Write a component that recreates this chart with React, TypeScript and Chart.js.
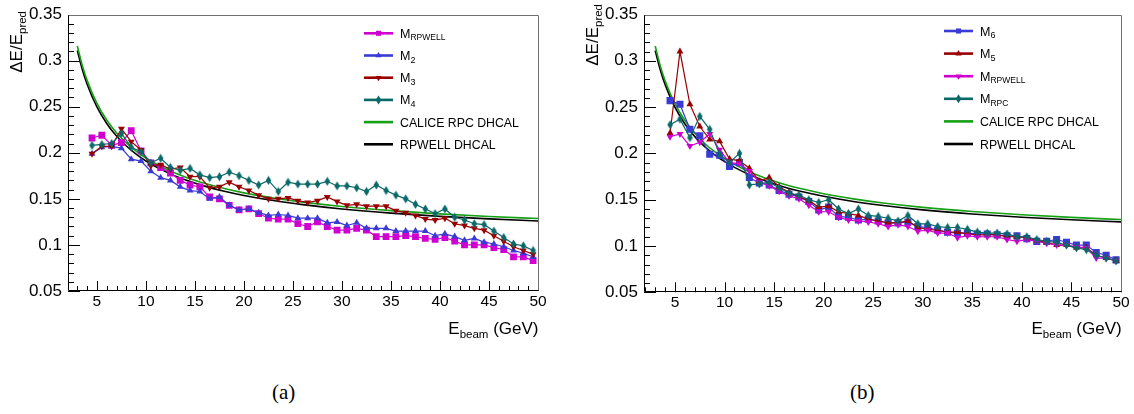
import React, { useEffect, useRef } from "react";
import { Chart, registerables } from "chart.js";

Chart.register(...registerables);

// ---------------- data ----------------
const energies = [
  4.5, 5.5, 6.5, 7.5, 8.5, 9.5, 10.5, 11.5, 12.5, 13.5, 14.5, 15.5, 16.5, 17.5, 18.5, 19.5,
  20.5, 21.5, 22.5, 23.5, 24.5, 25.5, 26.5, 27.5, 28.5, 29.5, 30.5, 31.5, 32.5, 33.5, 34.5,
  35.5, 36.5, 37.5, 38.5, 39.5, 40.5, 41.5, 42.5, 43.5, 44.5, 45.5, 46.5, 47.5, 48.5, 49.5,
];

// panel (a)
const aRpwell = [
  0.216, 0.219, 0.208, 0.211, 0.224, 0.202, 0.189, 0.184, 0.178, 0.170, 0.165, 0.163, 0.152, 0.150, 0.143, 0.138,
  0.139, 0.134, 0.129, 0.128, 0.128, 0.123, 0.120, 0.125, 0.120, 0.116, 0.116, 0.118, 0.116, 0.109, 0.109,
  0.109, 0.110, 0.109, 0.107, 0.106, 0.108, 0.104, 0.100, 0.100, 0.100, 0.097, 0.095, 0.087, 0.087, 0.083,
];
const aM2 = [
  0.199, 0.206, 0.207, 0.205, 0.193, 0.191, 0.180, 0.173, 0.170, 0.163, 0.159, 0.158, 0.150, 0.152, 0.143, 0.138,
  0.139, 0.135, 0.132, 0.133, 0.132, 0.129, 0.129, 0.129, 0.124, 0.125, 0.121, 0.124, 0.118, 0.118, 0.118,
  0.115, 0.115, 0.115, 0.115, 0.110, 0.112, 0.109, 0.105, 0.107, 0.103, 0.101, 0.098, 0.094, 0.091, 0.087,
];
const aM3 = [
  0.199, 0.207, 0.207, 0.226, 0.212, 0.203, 0.186, 0.187, 0.182, 0.184, 0.174, 0.174, 0.162, 0.163, 0.168, 0.163,
  0.159, 0.154, 0.150, 0.150, 0.151, 0.148, 0.146, 0.148, 0.152, 0.147, 0.143, 0.144, 0.142, 0.142, 0.142,
  0.137, 0.135, 0.132, 0.128, 0.127, 0.129, 0.123, 0.121, 0.118, 0.116, 0.110, 0.104, 0.098, 0.094, 0.090,
];
const aM4 = [
  0.208, 0.209, 0.210, 0.221, 0.206, 0.201, 0.189, 0.194, 0.184, 0.181, 0.183, 0.176, 0.173, 0.174, 0.179, 0.175,
  0.170, 0.165, 0.170, 0.158, 0.168, 0.166, 0.166, 0.166, 0.169, 0.164, 0.164, 0.162, 0.158, 0.165, 0.159,
  0.154, 0.150, 0.144, 0.139, 0.134, 0.139, 0.130, 0.127, 0.123, 0.122, 0.115, 0.108, 0.101, 0.099, 0.094,
];

// panel (b)
const bM6 = [
  0.257, 0.253, 0.226, 0.219, 0.199, 0.198, 0.186, 0.190, 0.174, 0.168, 0.166, 0.160, 0.156, 0.153, 0.148, 0.139,
  0.142, 0.132, 0.131, 0.128, 0.129, 0.127, 0.125, 0.125, 0.126, 0.121, 0.120, 0.117, 0.115, 0.114, 0.114,
  0.113, 0.113, 0.112, 0.111, 0.111, 0.108, 0.105, 0.105, 0.107, 0.104, 0.101, 0.101, 0.093, 0.090, 0.085,
];
const bM5 = [
  0.222, 0.310, 0.253, 0.229, 0.215, 0.213, 0.194, 0.192, 0.184, 0.170, 0.174, 0.164, 0.158, 0.153, 0.149, 0.142,
  0.143, 0.137, 0.135, 0.133, 0.129, 0.127, 0.125, 0.125, 0.127, 0.120, 0.118, 0.117, 0.115, 0.115, 0.113,
  0.112, 0.112, 0.112, 0.110, 0.110, 0.109, 0.106, 0.104, 0.101, 0.101, 0.098, 0.098, 0.090, 0.087, 0.084,
];
const bRpwell = [
  0.218, 0.221, 0.208, 0.212, 0.221, 0.204, 0.190, 0.189, 0.181, 0.169, 0.165, 0.159, 0.154, 0.151, 0.144, 0.137,
  0.137, 0.131, 0.128, 0.127, 0.126, 0.124, 0.121, 0.123, 0.121, 0.116, 0.117, 0.114, 0.114, 0.109, 0.111,
  0.110, 0.110, 0.110, 0.107, 0.105, 0.107, 0.105, 0.103, 0.101, 0.101, 0.099, 0.098, 0.087, 0.087, 0.084,
];
const bRpc = [
  0.231, 0.237, 0.217, 0.240, 0.226, 0.199, 0.190, 0.200, 0.166, 0.167, 0.169, 0.163, 0.157, 0.155, 0.150, 0.147,
  0.150, 0.140, 0.135, 0.140, 0.133, 0.132, 0.130, 0.127, 0.133, 0.124, 0.124, 0.121, 0.120, 0.120, 0.118,
  0.115, 0.114, 0.114, 0.113, 0.110, 0.110, 0.107, 0.105, 0.104, 0.101, 0.098, 0.096, 0.090, 0.087, 0.084,
];

// resolution curves
const curveE = [3, 3.5, 4, 5, 6, 7, 8, 9, 10, 12, 14, 16, 18, 20, 23, 26, 30, 35, 40, 45, 50];
const caliceCurve = [
  0.316, 0.295, 0.2785, 0.2535, 0.2355, 0.2217, 0.2107, 0.2018, 0.1943, 0.1826, 0.1737, 0.1668, 0.1612,
  0.1565, 0.1509, 0.1464, 0.1417, 0.1372, 0.1337, 0.1309, 0.1286,
];
const rpwellCurve = [
  0.311, 0.2906, 0.2743, 0.2497, 0.2318, 0.2181, 0.2073, 0.1985, 0.1911, 0.1795, 0.1707, 0.1638, 0.1583,
  0.1537, 0.1481, 0.1437, 0.139, 0.1345, 0.131, 0.1283, 0.126,
];

const yTickLabels = ["0.05", "0.1", "0.15", "0.2", "0.25", "0.3", "0.35"];
const xTickLabels = ["5", "10", "15", "20", "25", "30", "35", "40", "45", "50"];

// ---------------- style ----------------
const FONT = '"Liberation Sans", Arial, Helvetica, sans-serif';
const C_MAG = "#cf00cf";
const C_BLUE = "#3a3ad4";
const C_RED = "#990000";
const C_TEAL = "#0a6868";
const C_GREEN = "#15a015";
const C_BLACK = "#000000";

type Marker = "square" | "triUp" | "triDown" | "diamond";
interface Series {
  main: string;
  sub: string;
  color: string;
  values: number[];
  marker: Marker;
  radius: number;
}
interface PanelCfg {
  W: number;
  H: number;
  L: number;
  T: number;
  R: number;
  B: number;
  xMin: number;
  xMax: number;
  series: Series[];
  legend: { x0: number; x1: number; tx: number; y0: number; dy: number };
  yTitle: { x: number; yTop: number };
  xTitle: { xRight: number; y: number };
}

const panelA: PanelCfg = {
  W: 567, H: 350, L: 68, T: 11, R: 539, B: 291, xMin: 2.05, xMax: 50.1,
  series: [
    { main: "M", sub: "RPWELL", color: C_MAG, values: aRpwell, marker: "square", radius: 4.8 },
    { main: "M", sub: "2", color: C_BLUE, values: aM2, marker: "triUp", radius: 4 },
    { main: "M", sub: "3", color: C_RED, values: aM3, marker: "triDown", radius: 4 },
    { main: "M", sub: "4", color: C_TEAL, values: aM4, marker: "diamond", radius: 4 },
  ],
  legend: { x0: 364, x1: 393, tx: 400, y0: 33.3, dy: 22.2 },
  yTitle: { x: 22, yTop: 11 },
  xTitle: { xRight: 538.5, y: 334 },
};

const panelB: PanelCfg = {
  W: 567, H: 350, L: 77, T: 8.5, R: 555, B: 292.3, xMin: 1.87, xMax: 50.1,
  series: [
    { main: "M", sub: "6", color: C_BLUE, values: bM6, marker: "square", radius: 5 },
    { main: "M", sub: "5", color: C_RED, values: bM5, marker: "triUp", radius: 4 },
    { main: "M", sub: "RPWELL", color: C_MAG, values: bRpwell, marker: "triDown", radius: 4 },
    { main: "M", sub: "RPC", color: C_TEAL, values: bRpc, marker: "diamond", radius: 4 },
  ],
  legend: { x0: 377, x1: 406, tx: 413, y0: 31, dy: 22.6 },
  yTitle: { x: 31, yTop: 4 },
  xTitle: { xRight: 554.7, y: 334 },
};

// ---------------- helpers ----------------
function makeDiamond(color: string): HTMLCanvasElement {
  const c = document.createElement("canvas");
  c.width = 7;
  c.height = 10;
  const g = c.getContext("2d")!;
  g.fillStyle = color;
  g.beginPath();
  g.moveTo(3.5, 0.5);
  g.lineTo(6.3, 5);
  g.lineTo(3.5, 9.5);
  g.lineTo(0.7, 5);
  g.closePath();
  g.fill();
  return c;
}

function drawMarker(ctx: CanvasRenderingContext2D, m: Marker, x: number, y: number, r: number, color: string) {
  ctx.fillStyle = color;
  ctx.beginPath();
  if (m === "square") {
    const s = r * Math.SQRT1_2;
    ctx.rect(x - s, y - s, 2 * s, 2 * s);
  } else if (m === "triUp") {
    ctx.moveTo(x, y - r);
    ctx.lineTo(x + r * 0.866, y + r * 0.5);
    ctx.lineTo(x - r * 0.866, y + r * 0.5);
  } else if (m === "triDown") {
    ctx.moveTo(x, y + r);
    ctx.lineTo(x + r * 0.866, y - r * 0.5);
    ctx.lineTo(x - r * 0.866, y - r * 0.5);
  } else {
    ctx.moveTo(x, y - 4.5);
    ctx.lineTo(x + 2.8, y);
    ctx.lineTo(x, y + 4.5);
    ctx.lineTo(x - 2.8, y);
  }
  ctx.closePath();
  ctx.fill();
}

interface Part { t: string; size: number; dy: number }
function richWidth(ctx: CanvasRenderingContext2D, parts: Part[]) {
  let w = 0;
  for (const p of parts) {
    ctx.font = `${p.size}px ${FONT}`;
    w += ctx.measureText(p.t).width;
  }
  return w;
}
function drawRich(ctx: CanvasRenderingContext2D, parts: Part[], x: number, y: number) {
  let cx = x;
  for (const p of parts) {
    ctx.font = `${p.size}px ${FONT}`;
    ctx.fillText(p.t, cx, y + p.dy);
    cx += ctx.measureText(p.t).width;
  }
}

function makeDecor(cfg: PanelCfg) {
  return {
    id: "decor",
    afterDraw(chart: any) {
      const ctx: CanvasRenderingContext2D = chart.ctx;
      const a = chart.chartArea;
      const xs = chart.scales.x;
      const ys = chart.scales.y;
      ctx.save();
      // inward ticks
      ctx.strokeStyle = "#000";
      ctx.lineWidth = 1;
      ctx.beginPath();
      for (let k = 5; k <= 35; k++) {
        const py = Math.round(ys.getPixelForValue(k / 100)) + 0.5;
        const len = k % 5 === 0 ? 12 : 6;
        ctx.moveTo(a.left, py);
        ctx.lineTo(a.left + len, py);
      }
      for (let k = Math.ceil(xs.min); k <= Math.floor(xs.max); k++) {
        const px = Math.round(xs.getPixelForValue(k)) + 0.5;
        const len = k % 5 === 0 ? 10 : 5;
        ctx.moveTo(px, a.bottom);
        ctx.lineTo(px, a.bottom - len);
      }
      ctx.stroke();
      // frame
      const l = Math.round(a.left) + 0.5;
      const r = Math.round(a.right) - 0.5;
      const t = Math.round(a.top) + 0.5;
      const b = Math.round(a.bottom) - 0.5;
      ctx.strokeStyle = "#707070";
      ctx.beginPath();
      ctx.moveTo(l, t);
      ctx.lineTo(r, t);
      ctx.lineTo(r, b);
      ctx.stroke();
      ctx.strokeStyle = "#000";
      ctx.beginPath();
      ctx.moveTo(l, t);
      ctx.lineTo(l, b);
      ctx.lineTo(r, b);
      ctx.stroke();

      // legend
      const lg = cfg.legend;
      const rows: { color: string; marker?: Marker; parts: Part[] }[] = cfg.series.map((s) => ({
        color: s.color,
        marker: s.marker,
        parts: [
          { t: s.main, size: 12.5, dy: 0 },
          { t: s.sub, size: s.sub.length > 1 ? 8.5 : 9, dy: 2.6 },
        ],
      }));
      rows.push({ color: C_GREEN, parts: [{ t: "CALICE RPC DHCAL", size: 12.3, dy: 0 }] });
      rows.push({ color: C_BLACK, parts: [{ t: "RPWELL DHCAL", size: 12.3, dy: 0 }] });
      ctx.textBaseline = "alphabetic";
      ctx.textAlign = "left";
      rows.forEach((row, i) => {
        const y = lg.y0 + i * lg.dy;
        ctx.strokeStyle = row.color;
        ctx.lineWidth = 2.6;
        ctx.beginPath();
        ctx.moveTo(lg.x0, y);
        ctx.lineTo(lg.x1, y);
        ctx.stroke();
        if (row.marker) drawMarker(ctx, row.marker, (lg.x0 + lg.x1) / 2, y, 3.6, row.color);
        ctx.fillStyle = "#000";
        drawRich(ctx, row.parts, lg.tx, y + 4.5);
      });

      // y title (rotated)
      ctx.fillStyle = "#000";
      const yParts: Part[] = [
        { t: "\u0394E/E", size: 17, dy: 0 },
        { t: "pred", size: 11.5, dy: 3.5 },
      ];
      const yw = richWidth(ctx, yParts);
      ctx.save();
      ctx.translate(cfg.yTitle.x, cfg.yTitle.yTop + yw);
      ctx.rotate(-Math.PI / 2);
      drawRich(ctx, yParts, 0, 0);
      ctx.restore();

      // x title
      const xParts: Part[] = [
        { t: "E", size: 17, dy: 0 },
        { t: "beam", size: 11.5, dy: 3.5 },
        { t: " (GeV)", size: 17, dy: 0 },
      ];
      const xw = richWidth(ctx, xParts);
      drawRich(ctx, xParts, cfg.xTitle.xRight - xw, cfg.xTitle.y);
      ctx.restore();
    },
  };
}

function buildConfig(cfg: PanelCfg): any {
  const diamondCache: Record<string, HTMLCanvasElement> = {};
  const styleFor = (s: Series) => {
    if (s.marker === "square") return { pointStyle: "rect", pointRotation: 0 };
    if (s.marker === "triUp") return { pointStyle: "triangle", pointRotation: 0 };
    if (s.marker === "triDown") return { pointStyle: "triangle", pointRotation: 180 };
    if (!diamondCache[s.color]) diamondCache[s.color] = makeDiamond(s.color);
    return { pointStyle: diamondCache[s.color], pointRotation: 0 };
  };
  const n = cfg.series.length;
  const datasets: any[] = cfg.series.map((s, i) => ({
    label: s.main + s.sub,
    data: energies.map((x, j) => ({ x, y: s.values[j] })),
    borderColor: s.color,
    backgroundColor: s.color,
    borderWidth: 1.2,
    pointRadius: s.radius,
    pointHoverRadius: s.radius,
    pointBackgroundColor: s.color,
    pointBorderWidth: 0,
    tension: 0,
    order: n - i,
    ...styleFor(s),
  }));
  datasets.push({
    label: "CALICE RPC DHCAL",
    data: curveE.map((x, j) => ({ x, y: caliceCurve[j] })),
    borderColor: C_GREEN,
    borderWidth: 1.6,
    pointRadius: 0,
    cubicInterpolationMode: "monotone",
    order: 20,
  });
  datasets.push({
    label: "RPWELL DHCAL",
    data: curveE.map((x, j) => ({ x, y: rpwellCurve[j] })),
    borderColor: C_BLACK,
    borderWidth: 1.6,
    pointRadius: 0,
    cubicInterpolationMode: "monotone",
    order: 21,
  });

  return {
    type: "line",
    data: { datasets },
    options: {
      animation: false,
      responsive: false,
      devicePixelRatio: 1,
      events: [],
      layout: { padding: { left: 0, top: cfg.T, right: cfg.W - cfg.R, bottom: 0 } },
      plugins: { legend: { display: false }, tooltip: { enabled: false } },
      scales: {
        x: {
          type: "linear",
          min: cfg.xMin,
          max: cfg.xMax,
          grid: { display: false, drawTicks: false },
          border: { display: false },
          ticks: {
            autoSkip: false,
            maxRotation: 0,
            padding: 3,
            color: "#000",
            font: { family: FONT, size: 15.5, lineHeight: 1 },
            callback: (_v: any, i: number) => xTickLabels[i],
          },
          afterBuildTicks: (s: any) => {
            s.ticks = xTickLabels.map((t) => ({ value: parseFloat(t) }));
          },
          afterFit: (s: any) => {
            s.height = cfg.H - cfg.B;
          },
        },
        y: {
          type: "linear",
          min: 0.05,
          max: 0.35,
          grid: { display: false, drawTicks: false },
          border: { display: false },
          ticks: {
            autoSkip: false,
            padding: 6,
            color: "#000",
            font: { family: FONT, size: 17, lineHeight: 1 },
            callback: (_v: any, i: number) => yTickLabels[i],
          },
          afterBuildTicks: (s: any) => {
            s.ticks = yTickLabels.map((t) => ({ value: parseFloat(t) }));
          },
          afterFit: (s: any) => {
            s.width = cfg.L;
          },
        },
      },
    },
    plugins: [makeDecor(cfg)],
  };
}

function Panel({ cfg, left }: { cfg: PanelCfg; left: number }) {
  const ref = useRef<HTMLCanvasElement>(null);
  useEffect(() => {
    const chart = new Chart(ref.current as HTMLCanvasElement, buildConfig(cfg));
    return () => chart.destroy();
  }, [cfg]);
  return (
    <canvas
      ref={ref}
      width={cfg.W}
      height={cfg.H}
      style={{ position: "absolute", left, top: 0, width: cfg.W, height: cfg.H }}
    />
  );
}

const captionStyle: React.CSSProperties = {
  position: "absolute",
  top: 380,
  font: '21px "Liberation Serif", "Times New Roman", serif',
  lineHeight: "24px",
  color: "#000",
};

export default function App() {
  return (
    <div
      style={{
        position: "fixed",
        left: 0,
        top: 0,
        width: 1134,
        height: 414,
        background: "#fff",
        overflow: "hidden",
      }}
    >
      <Panel cfg={panelA} left={0} />
      <Panel cfg={panelB} left={567} />
      <div style={{ ...captionStyle, left: 272 }}>(a)</div>
      <div style={{ ...captionStyle, left: 850 }}>(b)</div>
    </div>
  );
}
